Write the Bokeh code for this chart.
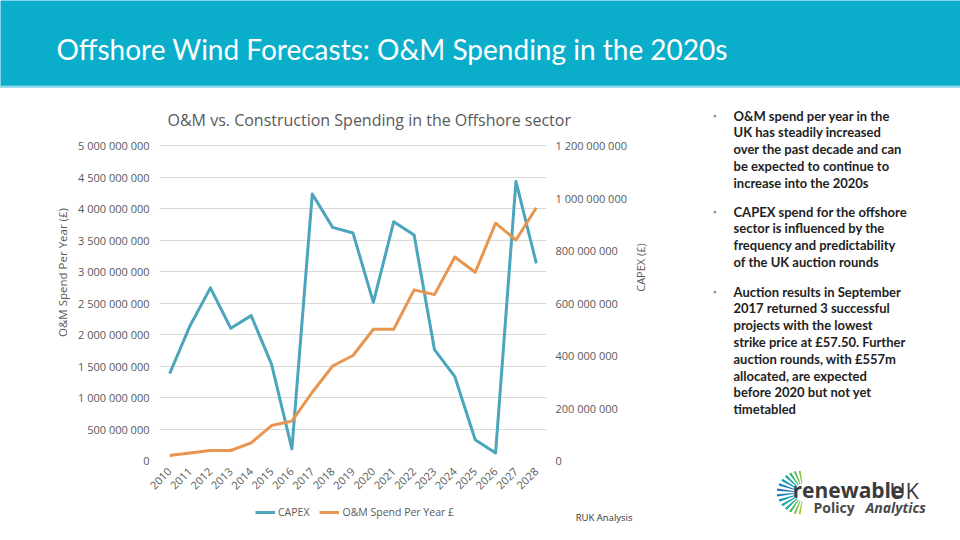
import math
from bokeh.plotting import figure
from bokeh.layouts import column, row
from bokeh.models import (FactorRange, Range1d, LinearAxis, BoxAnnotation, Legend,
                          LegendItem, CustomJSTickFormatter, FixedTicker, Title)
from bokeh.core.properties import value
from bokeh.embed import file_html
from bokeh.resources import INLINE

# ---------------- data ----------------
years = ["2010", "2011", "2012", "2013", "2014", "2015", "2016", "2017", "2018", "2019",
         "2020", "2021", "2022", "2023", "2024", "2025", "2026", "2027", "2028"]
capex = [1.38e9, 2.14e9, 2.74e9, 2.10e9, 2.30e9, 1.53e9, 0.185e9, 4.23e9, 3.70e9, 3.61e9,
         2.51e9, 3.79e9, 3.58e9, 1.76e9, 1.33e9, 0.33e9, 0.12e9, 4.43e9, 3.13e9]
om_spend = [0.019e9, 0.029e9, 0.038e9, 0.038e9, 0.067e9, 0.133e9, 0.150e9, 0.26e9, 0.36e9, 0.40e9,
            0.50e9, 0.50e9, 0.65e9, 0.632e9, 0.775e9, 0.717e9, 0.904e9, 0.84e9, 0.963e9]
left_ticks = [0, 5e8, 1e9, 1.5e9, 2e9, 2.5e9, 3e9, 3.5e9, 4e9, 4.5e9, 5e9]
right_ticks = [0, 2e8, 4e8, 6e8, 8e8, 1e9, 1.2e9]

header_title = "Offshore Wind Forecasts: O&M Spending in the 2020s"
chart_title = "O&M vs. Construction Spending in the Offshore sector"
left_title = "O&M Spend Per Year (\u00a3)"
right_title = "CAPEX (\u00a3)"
series_names = ["CAPEX", "O&M Spend Per Year \u00a3"]
source_note = "RUK Analysis"
bullets = [
    ["O&M spend per year in the", "UK has steadily increased", "over the past decade and can",
     "be expected to continue to", "increase into the 2020s"],
    ["CAPEX spend for the offshore", "sector is influenced by the", "frequency and predictability",
     "of the UK auction rounds"],
    ["Auction results in September", "2017 returned 3 successful", "projects with the lowest",
     "strike price at \u00a357.50. Further", "auction rounds, with \u00a3557m",
     "allocated, are expected", "before 2020 but not yet", "timetabled"],
]

# ---------------- style / layout ----------------
GREY = "#595959"
TEAL = "#4BA5BC"
ORANGE = "#E8964F"
FONT = "Open Sans"
BODY = "Lato"
PAGE_W, PAGE_H = 960, 540
HEADER_H = 88
MID_B = 499            # bottom of the chart band (page px)
STRIP_W = 70           # left strip holding the left axis title
CHART_R = 634          # right edge of chart column (page px)
FRAME_L, FRAME_R, FRAME_T, FRAME_B = 159, 546, 144, 460
NAN = float("nan")


def canvas_fig(w, h, bg="white"):
    f = figure(width=w, height=h, x_range=Range1d(0, w), y_range=Range1d(h, 0),
               x_axis_location=None, y_axis_location=None, min_border=0,
               toolbar_location=None, output_backend="svg")
    f.outline_line_color = None
    f.grid.visible = False
    f.background_fill_color = bg
    f.border_fill_color = bg
    return f

# ---------------- header ----------------
header = canvas_fig(PAGE_W, HEADER_H, bg="#0AAECB")
header.add_layout(BoxAnnotation(left=0, right=PAGE_W, top=85, bottom=87,
                                fill_color="#86D6E6", fill_alpha=1, line_color=None))
header.add_layout(BoxAnnotation(left=0, right=PAGE_W, top=87, bottom=88,
                                fill_color="white", fill_alpha=1, line_color=None))
header.text(x=[56], y=[48], text=[header_title], text_color="white",
            text_font=value(BODY), text_font_size="28px", text_baseline="middle")

mid_h = MID_B - HEADER_H

# ---------------- left strip (axis title) ----------------
lstrip = canvas_fig(STRIP_W, mid_h)
lstrip.text(x=[62], y=[272 - HEADER_H], text=[left_title], text_color=GREY,
            text_font=value(FONT), text_font_size="11.5px", text_align="center",
            text_baseline="middle", angle=math.pi / 2)

# ---------------- chart ----------------
pad_top = 1.0 / (FRAME_B - FRAME_T - 1)
p = figure(width=CHART_R - STRIP_W, height=mid_h, x_range=FactorRange(factors=years),
           y_range=Range1d(0, 5e9 * (1 + pad_top)), output_backend="svg",
           toolbar_location=None,
           min_border_left=FRAME_L - STRIP_W, min_border_right=CHART_R - FRAME_R,
           min_border_top=FRAME_T - HEADER_H, min_border_bottom=MID_B - FRAME_B)
p.outline_line_color = None
p.xgrid.grid_line_color = None
p.ygrid.grid_line_color = "#d9d9d9"
p.ygrid.ticker = FixedTicker(ticks=left_ticks)

fmt = CustomJSTickFormatter(code="""return Math.round(tick).toString().replace(/\\B(?=(\\d{3})+(?!\\d))/g, " ");""")

la = p.yaxis[0]
la.ticker = FixedTicker(ticks=left_ticks)
la.formatter = fmt

p.extra_y_ranges = {"om": Range1d(0, 1.2e9 * (1 + pad_top))}
ra = LinearAxis(y_range_name="om", ticker=FixedTicker(ticks=right_ticks), formatter=fmt)
p.add_layout(ra, "right")

xa = p.xaxis[0]
xa.major_label_orientation = math.pi / 4

for ax in [la, ra, xa]:
    ax.axis_line_color = None
    ax.major_tick_line_color = None
    ax.minor_tick_line_color = None
    ax.major_tick_in = 0
    ax.major_tick_out = 0
    ax.major_label_text_color = GREY
    ax.major_label_text_font = FONT
    ax.major_label_text_font_size = "11px"
la.major_label_standoff = 10
ra.major_label_standoff = 9
xa.major_label_standoff = 9

p.title = Title(text=chart_title, align="left", offset=8, standoff=27,
                text_font=FONT, text_font_size="16px", text_font_style="normal",
                text_color=GREY)

p.line(x=years, y=capex, line_color=TEAL, line_width=3, line_join="round")
p.line(x=years, y=om_spend, line_color=ORANGE, line_width=3, line_join="round",
       y_range_name="om")

# ---------------- legend strip under the chart ----------------
foot = canvas_fig(CHART_R, PAGE_H - MID_B)
fy = lambda y: y - MID_B
k1 = foot.line(x=[NAN, NAN], y=[NAN, NAN], line_color=TEAL, line_width=3)
k2 = foot.line(x=[NAN, NAN], y=[NAN, NAN], line_color=ORANGE, line_width=3)
legend = Legend(items=[LegendItem(label=series_names[0], renderers=[k1]),
                       LegendItem(label=series_names[1], renderers=[k2])],
                orientation="horizontal", location=(255, 21))
legend.label_text_font = FONT
legend.label_text_font_size = "10.5px"
legend.label_text_color = GREY
legend.glyph_width = 20
legend.glyph_height = 14
legend.label_height = 14
legend.label_standoff = 3
legend.spacing = 10
legend.padding = 0
legend.margin = 0
legend.border_line_color = None
legend.background_fill_alpha = 0
foot.add_layout(legend)
foot.text(x=[CHART_R - 2], y=[fy(517)], text=[source_note], text_color="#333333",
          text_font=value(FONT), text_font_size="9.5px", text_baseline="middle",
          text_align="right")

# ---------------- side panel (bullets + logo) ----------------
side = canvas_fig(PAGE_W - CHART_R, PAGE_H - HEADER_H)
sx = lambda x: x - CHART_R
sy = lambda y: y - HEADER_H
side.text(x=[sx(640)], y=[sy(267)], text=[right_title], text_color=GREY,
          text_font=value(FONT), text_font_size="11px", text_align="center",
          text_baseline="middle", angle=math.pi / 2)
starts = [115, 211, 291]
for start, lines in zip(starts, bullets):
    side.text(x=[sx(714)], y=[sy(start)], text=["\u25aa"], text_color="#8c8c8c",
              text_font=value(FONT), text_font_size="9px", text_baseline="middle",
              text_align="center")
    side.text(x=[sx(733)] * len(lines),
              y=[sy(start) + i * 16.8 for i in range(len(lines))],
              text=lines, text_color="#1e1e1e", text_font=value(BODY),
              text_font_size="13px", text_font_style="bold", text_baseline="middle")

side.text(x=[sx(792)], y=[sy(489)], text=["renewable"], text_color="#3b3b3b",
          text_font=value(FONT), text_font_size="21px", text_font_style="bold",
          text_baseline="middle")
side.text(x=[sx(889)], y=[sy(489)], text=["UK"], text_color="#3b3b3b",
          text_font=value(FONT), text_font_size="22px", text_baseline="middle")
side.text(x=[sx(813)], y=[sy(507)], text=["Policy"], text_color="#4a4a4a",
          text_font=value(FONT), text_font_size="14px", text_font_style="bold",
          text_baseline="middle")
side.text(x=[sx(865)], y=[sy(507)], text=["Analytics"], text_color="#4a4a4a",
          text_font=value(FONT), text_font_size="14px", text_font_style="bold italic",
          text_baseline="middle")

ray_cols = ["#9ccb3b", "#74c043", "#3db54a", "#14a98a", "#0aa3a8", "#0b93b9", "#0f7fc0",
            "#1b6fb8", "#0f7fc0", "#0b93b9", "#13a59a", "#2fae5c", "#5cba47", "#8cc63f"]
n = len(ray_cols)
mid = (n - 1) / 2
ang = [math.radians(260 - k * 160 / (n - 1)) for k in range(n)]
outer = [27 - 5 * abs(k - mid) / mid for k in range(n)]
side.annular_wedge(x=sx(803), y=sy(492), inner_radius=9, outer_radius=outer,
                   start_angle=[a - 0.045 for a in ang],
                   end_angle=[a + 0.045 for a in ang],
                   fill_color=ray_cols, line_color=None)

layout = column(header,
                row(column(row(column(lstrip), column(p)), foot),
                    column(side)))
open("out.html", "w").write(file_html(layout, INLINE))
